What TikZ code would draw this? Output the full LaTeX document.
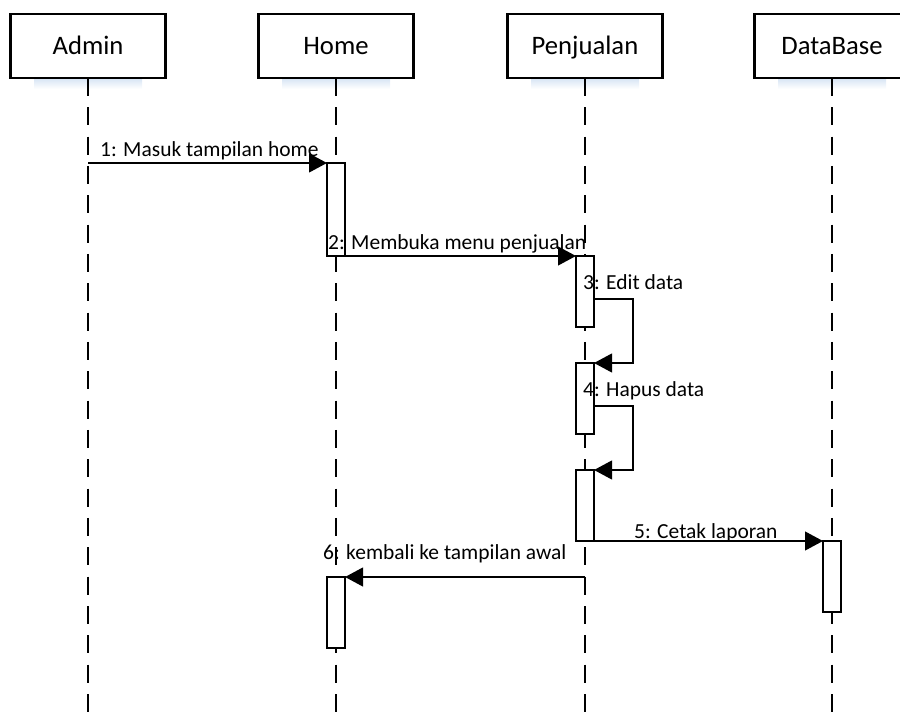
\documentclass[tikz,border=0pt]{standalone}
\usepackage{fontspec}
\setmainfont{Carlito}
\usetikzlibrary{arrows.meta}
\definecolor{glow}{RGB}{214,228,244}
\begin{document}
\begin{tikzpicture}[x=0.75pt,y=-0.75pt,
  line width=1.7pt,
  head/.style={draw, fill=white, minimum width=116.25pt, minimum height=48pt,
    inner sep=0pt, outer sep=0pt, text height=16.5pt, text depth=3.5pt,
    font=\fontsize{20}{24}\selectfont},
  act/.style={draw, fill=white, minimum width=13.5pt, inner sep=0pt, outer sep=0pt},
  life/.style={dash pattern=on 13.5pt off 8.5pt},
  msg/.style={-{Triangle[length=13.5pt,width=14pt]}},
  lbl/.style={anchor=base west, inner sep=0pt, font=\fontsize{16.1}{19}\selectfont}]
\useasboundingbox (0,0) rectangle (900,716);
\clip (0,0) rectangle (900,716);

% soft glow under the object boxes
\foreach \cx in {88,336,585,832}
  \shade[top color=glow, bottom color=white, draw=none]
    (\cx-54,78) rectangle (\cx+54,89);

% lifelines
\foreach \cx in {88,336,585,832}
  \draw[life] (\cx,78) -- (\cx,716);

% object boxes
\node[head] (admin) at (88,46)  {Admin};
\node[head] (home)  at (336,46) {Home};
\node[head] (penj)  at (585,46) {Penjualan};
\node[head] (db)    at (832,46) {DataBase};

% activation bars
\node[act, minimum height=69.75pt, anchor=north] (actH1) at (336,163) {};
\node[act, minimum height=53.25pt, anchor=north] (actP1) at (585,256) {};
\node[act, minimum height=53.25pt, anchor=north] (actP2) at (585,363) {};
\node[act, minimum height=53.25pt, anchor=north] (actP3) at (585,470) {};
\node[act, minimum height=53.25pt, anchor=north] (actD)  at (832,541) {};
\node[act, minimum height=53.25pt, anchor=north] (actH2) at (336,577) {};

% message end points on lifelines
\coordinate (m1s) at (88,163);
\coordinate (m3s) at (actP1.east |- 0,299);
\coordinate (m4s) at (actP2.east |- 0,406);
\coordinate (m6s) at (585,577);

% messages
\draw[msg] (m1s) -- (actH1.north west);
\draw[msg] (actH1.south east) -- (actP1.north west);
\draw[msg] (m3s) -- (633,299) -- (633,363) -- (actP2.north east);
\draw[msg] (m4s) -- (633,406) -- (633,470) -- (actP3.north east);
\draw[msg] (actP3.south east) -- (actD.north west);
\draw[msg] (m6s) -- (actH2.north east);

% message labels
\node[lbl] (l1) at (99,157)  {1: Masuk tampilan home};
\node[lbl] (l2) at (327,250) {2: Membuka menu penjualan};
\node[lbl] (l3) at (582,290) {3: Edit data};
\node[lbl] (l4) at (582,397) {4: Hapus data};
\node[lbl] (l5) at (633,538) {5: Cetak laporan};
\node[lbl] (l6) at (322,560) {6: kembali ke tampilan awal};
\end{tikzpicture}
\end{document}
